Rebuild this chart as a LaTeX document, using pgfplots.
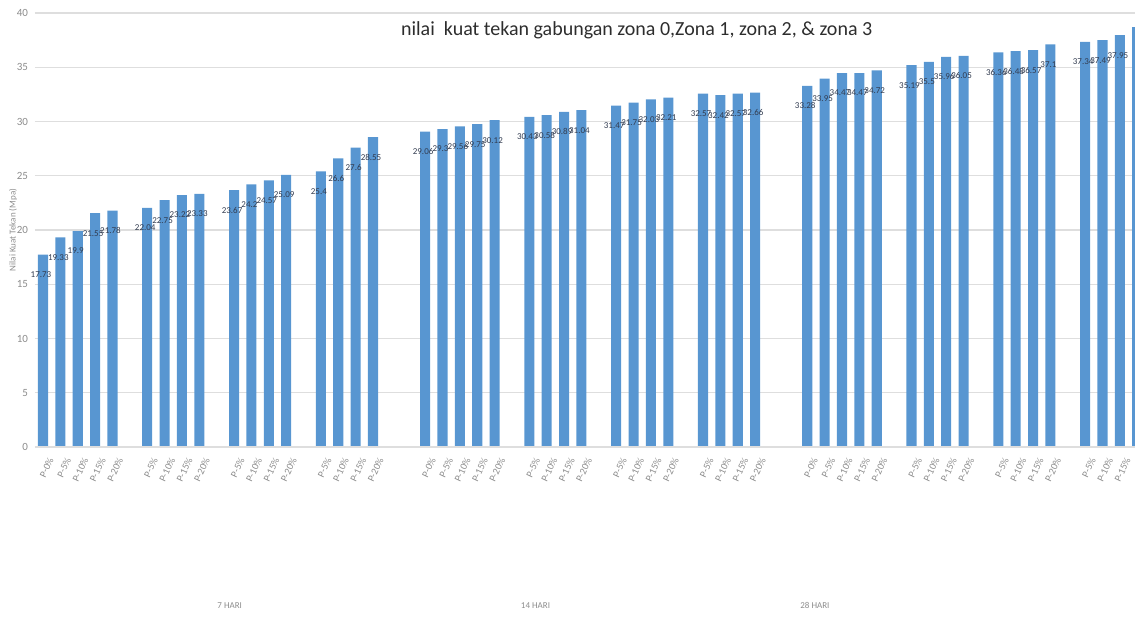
\documentclass[border=0pt]{standalone}
\usepackage{fontspec}
\setmainfont{Carlito}
\usepackage{pgfplots}
\usepackage{pgfplotstable}
\pgfplotsset{compat=1.18}
\definecolor{barblue}{RGB}{88,150,209}
\definecolor{gridgray}{RGB}{222,222,222}
\definecolor{ticktext}{RGB}{140,140,140}
\definecolor{labeltext}{RGB}{50,60,80}
\definecolor{titletext}{RGB}{45,45,45}

\pgfplotstableread{
x y
0 17.73
1 19.33
2 19.9
3 21.55
4 21.78
6 22.04
7 22.75
8 23.22
9 23.33
11 23.67
12 24.2
13 24.57
14 25.09
16 25.4
17 26.6
18 27.6
19 28.55
22 29.06
23 29.3
24 29.56
25 29.75
26 30.12
28 30.43
29 30.58
30 30.89
31 31.04
33 31.47
34 31.75
35 32.03
36 32.21
38 32.57
39 32.42
40 32.57
41 32.66
44 33.28
45 33.95
46 34.47
47 34.47
48 34.72
50 35.19
51 35.5
52 35.96
53 36.05
55 36.36
56 36.48
57 36.57
58 37.1
60 37.34
61 37.49
62 37.95
63 38.7
}\datatable

\begin{document}
\begin{tikzpicture}
\begin{axis}[
  name=ax,
  scale only axis,
  width=550pt, height=217pt,
  xmin=-0.46, xmax=62.87, ymin=0, ymax=40,
  ybar, bar width=0.58,
  ytick={0,5,...,40},
  ymajorgrids,
  major grid style={draw=gridgray, line width=0.6pt},
  axis line style={draw=none},
  major tick length=0pt,
  /pgf/number format/assume math mode=true,
  y tick label style={font=\fontsize{5.5}{6}\selectfont, text=ticktext},
  xtick=data,
  xticklabels={P-0\%,P-5\%,P-10\%,P-15\%,P-20\%,
    P-5\%,P-10\%,P-15\%,P-20\%,
    P-5\%,P-10\%,P-15\%,P-20\%,
    P-5\%,P-10\%,P-15\%,P-20\%,
    P-0\%,P-5\%,P-10\%,P-15\%,P-20\%,
    P-5\%,P-10\%,P-15\%,P-20\%,
    P-5\%,P-10\%,P-15\%,P-20\%,
    P-5\%,P-10\%,P-15\%,P-20\%,
    P-0\%,P-5\%,P-10\%,P-15\%,P-20\%,
    P-5\%,P-10\%,P-15\%,P-20\%,
    P-5\%,P-10\%,P-15\%,P-20\%,
    P-5\%,P-10\%,P-15\%,P-20\%},
  x tick label style={rotate=65, anchor=east, font=\fontsize{5}{6}\selectfont, text=ticktext, yshift=-6pt},
  ylabel={Nilai Kuat Tekan (Mpa)},
  ylabel style={font=\fontsize{4.5}{5}\selectfont, text=ticktext, at={(axis description cs:-0.02,0.5)}, anchor=center},
  title={nilai\ \ kuat tekan gabungan zona 0,Zona 1, zona 2, \& zona 3},
  every axis title/.style={at={(axis description cs:0.547,0.961)}, anchor=center, font=\fontsize{10}{12}\selectfont, text=titletext},
  nodes near coords,
  every node near coord/.append style={font=\fontsize{4.5}{5}\selectfont, text=labeltext, anchor=center, yshift=-10pt, xshift=-1pt},
  extra description/.code={
    \node[font=\fontsize{4.5}{5}\selectfont, text=ticktext] at (axis description cs:0.177,-0.366) {7 HARI};
    \node[font=\fontsize{4.5}{5}\selectfont, text=ticktext] at (axis description cs:0.455,-0.366) {14 HARI};
    \node[font=\fontsize{4.5}{5}\selectfont, text=ticktext] at (axis description cs:0.709,-0.366) {28 HARI};
  },
]
\addplot[fill=barblue, draw=none] table[x=x, y=y] {\datatable};
\draw[gridgray, line width=0.6pt] (axis cs:-0.46,0) -- (axis cs:62.87,0);
\end{axis}
\pgfresetboundingbox
\path ([shift={(-17.5pt,-85pt)}]ax.south west) rectangle ([shift={(0pt,6.5pt)}]ax.north east);
\end{tikzpicture}
\end{document}
